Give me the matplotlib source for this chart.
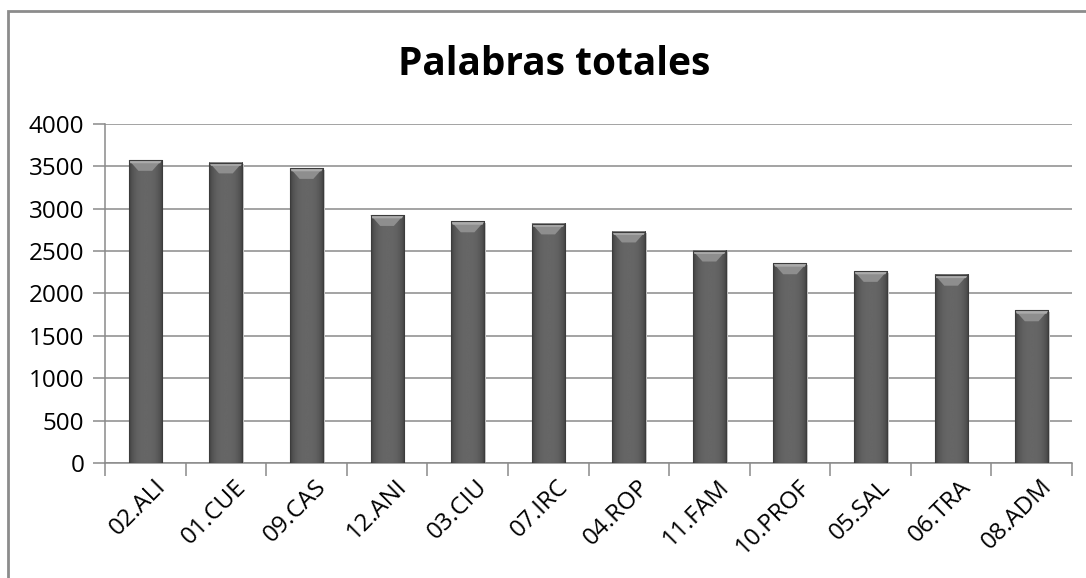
import matplotlib
matplotlib.use("Agg")
import matplotlib.pyplot as plt
import numpy as np
from matplotlib.patches import Polygon, Rectangle

categories = ["02.ALI", "01.CUE", "09.CAS", "12.ANI", "03.CIU", "07.IRC",
              "04.ROP", "11.FAM", "10.PROF", "05.SAL", "06.TRA", "08.ADM"]
values = [3575, 3545, 3480, 2925, 2850, 2825, 2730, 2505, 2355, 2265, 2220, 1800]
y_ticks = [0, 500, 1000, 1500, 2000, 2500, 3000, 3500, 4000]
title = "Palabras totales"

plt.rcParams["font.family"] = ["Open Sans", "DejaVu Sans"]

fig = plt.figure(figsize=(10.86, 5.78), dpi=100)
ax = fig.add_axes([0.0967, 0.199, 0.8904, 0.5865])

# outer chart frame (only left and top edges visible in the crop)
fig.add_artist(Rectangle((8 / 1086, -0.2), 1.2, 1 - 11 / 578 + 0.2,
                         transform=fig.transFigure, fill=False,
                         edgecolor="#8c8c8c", linewidth=2))

x = np.arange(len(categories))
bar_w = 0.41
ymax = 4000

# horizontal shading for the bars: dark edges, lighter middle
prof = np.abs(np.linspace(-1, 1, 64))
shade = 0.40 - 0.14 * prof ** 3
grad = np.tile(shade, (2, 1))

for xi, v in zip(x, values):
    left, right = xi - bar_w / 2, xi + bar_w / 2
    ax.imshow(grad, extent=(left, right, 0, v), cmap="gray", vmin=0, vmax=1,
              aspect="auto", interpolation="bicubic", zorder=3)
    # soft shadow on the right
    ax.add_patch(Rectangle((right, 0), 0.02, v - 20, facecolor="#c8c8c8",
                           edgecolor="none", zorder=2))
    # bevel at the top
    bh = 0.032 * ymax
    bd = 0.12
    ax.add_patch(Polygon([(left, v), (right, v), (right - bd, v - bh), (left + bd, v - bh)],
                         closed=True, facecolor="#8e8e8e", edgecolor="none", zorder=4))
    ax.add_patch(Polygon([(left, v), (right, v), (right - 0.02, v - 0.3 * bh), (left + 0.02, v - 0.3 * bh)],
                         closed=True, facecolor="#ababab", edgecolor="none", zorder=4))
    ax.add_patch(Rectangle((left, 0), bar_w, v, fill=False, edgecolor="#3c3c3c",
                           linewidth=0.8, zorder=5))

ax.set_xlim(-0.5, len(categories) - 0.5)
ax.set_ylim(0, ymax)
ax.set_yticks(y_ticks)
ax.set_yticklabels([str(t) for t in y_ticks], fontsize=17.5)
ax.yaxis.grid(True, color="#8a8a8a", linewidth=1.1)
ax.set_axisbelow(True)

ax.set_xticks(np.arange(len(categories) + 1) - 0.5)
ax.set_xticklabels([])
ax.tick_params(axis="x", length=9, color="#8a8a8a", width=1.1)
ax.tick_params(axis="y", length=9, color="#8a8a8a", width=1.1, pad=6)

for xi, lab in zip(x, categories):
    ax.text(xi + 0.1, -0.035 * ymax, lab, rotation=45, ha="right", va="top",
            rotation_mode="anchor", fontsize=17.5, transform=ax.transData)

for side in ["top", "right"]:
    ax.spines[side].set_visible(False)
for side in ["left", "bottom"]:
    ax.spines[side].set_color("#8a8a8a")
    ax.spines[side].set_linewidth(1.1)

fig.text(0.51, 0.889, title, ha="center", va="center", fontsize=28, fontweight="bold")

fig.savefig("out.png", dpi=100)
